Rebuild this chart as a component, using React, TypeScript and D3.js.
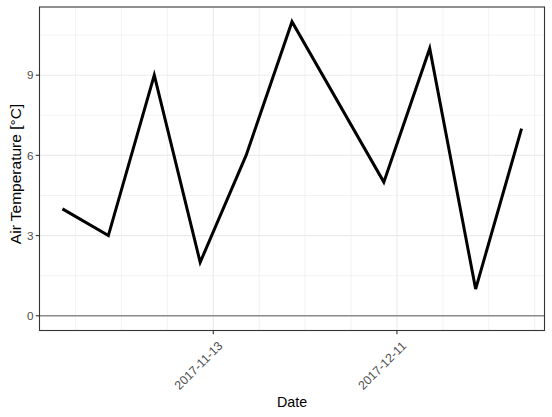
import React from "react";
import * as d3 from "d3";

const dates: string[] = [
  "2017-10-21", "2017-10-28", "2017-11-04", "2017-11-11", "2017-11-18",
  "2017-11-25", "2017-12-09", "2017-12-16", "2017-12-23", "2017-12-30",
];
const temps: number[] = [4, 3, 9, 2, 6, 11, 5, 10, 1, 7];
const yTicks: number[] = [0, 3, 6, 9];
const yMinor: number[] = [1.5, 4.5, 7.5, 10.5];
const xTickLabels: string[] = ["2017-11-13", "2017-12-11"];
const xMinorDates: string[] = [
  "2017-10-23", "2017-10-30", "2017-11-06", "2017-11-20", "2017-11-27",
  "2017-12-04", "2017-12-18", "2017-12-25", "2018-01-01",
];

const W = 552, H = 417;
const L = 39.5, R = 544.5, T = 7, B = 330.5;
const FONT = "'Liberation Sans', Arial, sans-serif";

export default function App() {
  const parse = (s: string) => new Date(s + "T00:00:00Z");
  const pts = dates.map((d, i) => ({ x: parse(d), y: temps[i] }));
  const xExt = d3.extent(pts, (p) => p.x.getTime()) as [number, number];
  const xPad = (xExt[1] - xExt[0]) * 0.05;
  const x = d3.scaleUtc().domain([xExt[0] - xPad, xExt[1] + xPad]).range([L, R]);
  const yMax = 11, yMin = 0;
  const yPad = (yMax - yMin) * 0.05;
  const y = d3.scaleLinear().domain([yMin - yPad, yMax + yPad]).range([B, T]);
  const line = d3.line<{ x: Date; y: number }>().x((p) => x(p.x)).y((p) => y(p.y));
  const grid = "#ebebeb";

  return (
    <svg width={W} height={H} style={{ position: "absolute", left: 0, top: 0 }}>
      <rect x={0} y={0} width={W} height={H} fill="white" />
      {yMinor.map((v) => (
        <line key={"ym" + v} x1={L} x2={R} y1={y(v)} y2={y(v)} stroke={grid} strokeWidth={0.6} />
      ))}
      {xMinorDates.map((d) => (
        <line key={"xm" + d} x1={x(parse(d))} x2={x(parse(d))} y1={T} y2={B} stroke={grid} strokeWidth={0.6} />
      ))}
      {yTicks.map((v) => (
        <line key={"yg" + v} x1={L} x2={R} y1={y(v)} y2={y(v)} stroke={grid} strokeWidth={1.1} />
      ))}
      {xTickLabels.map((d) => (
        <line key={"xg" + d} x1={x(parse(d))} x2={x(parse(d))} y1={T} y2={B} stroke={grid} strokeWidth={1.1} />
      ))}
      <line x1={L} x2={R} y1={y(0)} y2={y(0)} stroke="#8c8c8c" strokeWidth={1.6} />
      <path d={line(pts) || ""} fill="none" stroke="black" strokeWidth={3} strokeLinejoin="miter" strokeLinecap="butt" />
      <rect x={L} y={T} width={R - L} height={B - T} fill="none" stroke="#333333" strokeWidth={1.1} />
      {yTicks.map((v) => (
        <g key={"yt" + v}>
          <line x1={L - 3.7} x2={L} y1={y(v)} y2={y(v)} stroke="#333333" strokeWidth={1.1} />
          <text x={L - 6} y={y(v)} dy="0.36em" textAnchor="end" fontFamily={FONT} fontSize={11.7} fill="#4d4d4d">
            {v}
          </text>
        </g>
      ))}
      {xTickLabels.map((d) => {
        const px = x(parse(d));
        return (
          <g key={"xt" + d}>
            <line x1={px} x2={px} y1={B} y2={B + 3.7} stroke="#333333" strokeWidth={1.1} />
            <text
              transform={`translate(${px + 4},${B + 10}) rotate(-45)`}
              textAnchor="end"
              dy="0.7em"
              fontFamily={FONT}
              fontSize={12.3}
              fill="#4d4d4d"
            >
              {d}
            </text>
          </g>
        );
      })}
      <text x={(L + R) / 2} y={407} textAnchor="middle" fontFamily={FONT} fontSize={14.3} fill="black">
        Date
      </text>
      <text
        transform={`translate(21,174) rotate(-90)`}
        textAnchor="middle"
        fontFamily={FONT}
        fontSize={15.5}
        fill="black"
      >
        Air Temperature [°C]
      </text>
    </svg>
  );
}
